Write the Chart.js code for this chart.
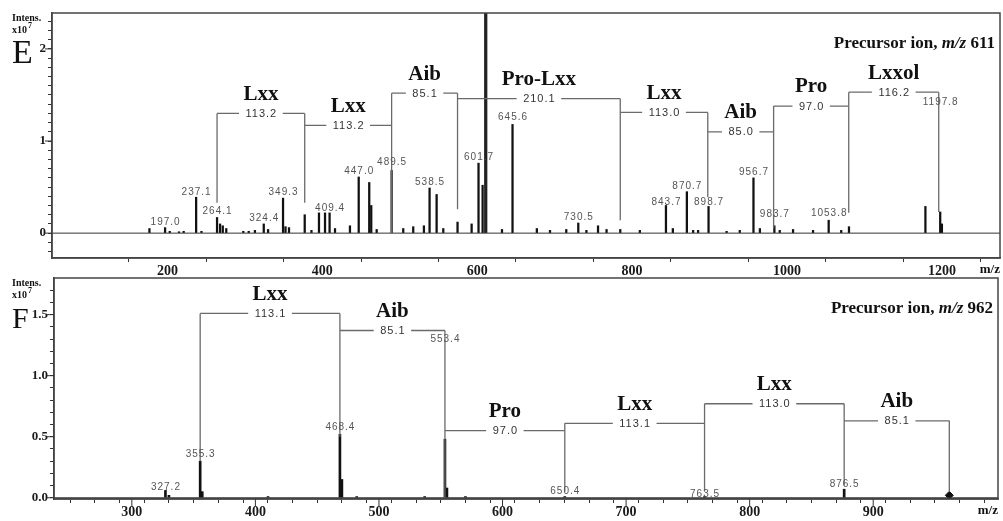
<!DOCTYPE html>
<html>
<head>
<meta charset="utf-8">
<script src="https://cdn.jsdelivr.net/npm/chart.js@4/dist/chart.umd.min.js"></script>
<style>
  body { margin: 0; background: #fff; }
  #wrap { position: relative; width: 1003px; height: 521px; }
  canvas { position: absolute; left: 0; }
</style>
</head>
<body>
<div id="wrap">
  <canvas id="chartE" width="1003" height="283" style="top:0;width:1003px;height:283px"></canvas>
  <canvas id="chartF" width="1003" height="256" style="top:265px;width:1003px;height:256px"></canvas>
</div>
<script>
// ---- panel E : precursor m/z 611 ----
const eMz  = [176.8, 197.0, 203.0, 215.0, 221.0, 237.1, 244.0, 264.1, 268.0, 271.5, 276.0, 298.0, 305.0, 313.0, 324.4, 330.0, 349.3, 352.5, 357.0, 377.3, 386.0, 395.7, 403.5, 409.4, 416.4, 435.7, 447.0, 460.6, 463.2, 470.2, 489.5, 504.5, 517.4, 531.2, 538.5, 547.6, 556.2, 574.6, 592.8, 601.7, 607.0, 632.0, 645.6, 677.0, 694.0, 715.0, 730.5, 741.0, 756.0, 767.0, 784.7, 810.0, 843.7, 852.6, 870.7, 878.8, 885.2, 898.7, 922.0, 939.0, 956.7, 965.0, 983.7, 990.6, 1007.8, 1033.6, 1053.8, 1070.0, 1080.0, 1178.7, 1197.8, 1200.0];
const eInt = [0.05, 0.06, 0.02, 0.015, 0.02, 0.39, 0.02, 0.17, 0.10, 0.08, 0.05, 0.02, 0.02, 0.03, 0.10, 0.04, 0.38, 0.07, 0.06, 0.20, 0.03, 0.22, 0.22, 0.22, 0.05, 0.08, 0.61, 0.55, 0.30, 0.04, 0.68, 0.05, 0.07, 0.08, 0.49, 0.42, 0.05, 0.12, 0.10, 0.76, 0.52, 0.04, 1.18, 0.05, 0.03, 0.04, 0.11, 0.03, 0.08, 0.04, 0.04, 0.03, 0.30, 0.05, 0.45, 0.03, 0.03, 0.29, 0.02, 0.03, 0.60, 0.05, 0.08, 0.03, 0.04, 0.03, 0.14, 0.03, 0.07, 0.29, 0.23, 0.10];
const ePrecMz  = [611.0];
const ePrecInt = [2.6];
const eLabelMz = [197.0, 237.1, 264.1, 324.4, 349.3, 409.4, 447.0, 489.5, 538.5, 601.7, 645.6, 730.5, 843.7, 870.7, 898.7, 956.7, 983.7, 1053.8, 1197.8];
const eLabelAt = [0.12, 0.44, 0.24, 0.16, 0.44, 0.27, 0.67, 0.77, 0.55, 0.82, 1.26, 0.17, 0.33, 0.51, 0.34, 0.66, 0.20, 0.22, 1.42];
const eLadderMz   = [264.1, 377.3, 489.5, 574.6, 784.7, 897.7, 982.7, 1079.7, 1195.9];
const eLadderFoot = [0.33, 0.33, 0.0, 0.26, 0.14, 0.39, 0.05, 0.22, 0.23];
const eStepLevel  = [1.30, 1.17, 1.52, 1.46, 1.31, 1.10, 1.38, 1.53];
const eStepDelta  = ['113.2', '113.2', '85.1', '210.1', '113.0', '85.0', '97.0', '116.2'];
const eStepName   = ['Lxx', 'Lxx', 'Aib', 'Pro-Lxx', 'Lxx', 'Aib', 'Pro', 'Lxxol'];
const eXLabels = [200, 400, 600, 800, 1000, 1200];
const eYLabels = [0, 1, 2];

// ---- panel F : precursor m/z 962 ----
const fMz  = [327.2, 330.0, 355.3, 357.0, 410.2, 468.4, 470.0, 482.0, 537.0, 553.4, 555.0, 570.0, 650.4, 763.5, 876.5];
const fInt = [0.06, 0.02, 0.30, 0.05, 0.01, 0.52, 0.15, 0.01, 0.01, 0.48, 0.08, 0.01, 0.01, 0.01, 0.07];
const fPrecMz  = [961.6];
const fPrecInt = [0.02];
const fLabelMz = [327.2, 355.3, 468.4, 553.4, 650.4, 763.5, 876.5];
const fLabelAt = [0.09, 0.36, 0.58, 1.30, 0.05, 0.03, 0.11];
const fLadderMz   = [355.3, 468.4, 553.4, 650.4, 763.5, 876.5, 961.6];
const fLadderFoot = [0.30, 0.50, 0.0, 0.05, 0.05, 0.10, 0.05];
const fStepLevel  = [1.51, 1.37, 0.55, 0.61, 0.77, 0.63];
const fStepDelta  = ['113.1', '85.1', '97.0', '113.1', '113.0', '85.1'];
const fStepName   = ['Lxx', 'Aib', 'Pro', 'Lxx', 'Lxx', 'Aib'];
const fXLabels = [300, 400, 500, 600, 700, 800, 900];
const fYLabels = [0, 0.5, 1, 1.5];

const range = (a, b, s) => {
  const out = [];
  for (let v = a; v <= b + 1e-9; v += s) out.push(Math.round(v * 1000) / 1000);
  return out;
};

const SERIF = '"Liberation Serif", "Times New Roman", serif';
const SANS = '"Liberation Sans", Arial, sans-serif';

function line(ctx, x1, y1, x2, y2) {
  ctx.beginPath(); ctx.moveTo(x1, y1); ctx.lineTo(x2, y2); ctx.stroke();
}

function decor(p) {
  return {
    id: 'decor' + p.letter,
    afterDatasetsDraw(chart) {
      const { ctx, chartArea: a, scales: { x, y } } = chart;
      ctx.save();
      // zero line of the spectrum
      ctx.strokeStyle = '#333'; ctx.lineWidth = 1;
      line(ctx, a.left, y.getPixelForValue(0), a.right, y.getPixelForValue(0));

      // ladder of fragment ions
      ctx.strokeStyle = '#6a6a6a'; ctx.lineWidth = 1.3;
      const lv = p.level;
      p.ladder.forEach((m, i) => {
        const top = Math.max(i > 0 ? lv[i - 1] : -9, i < lv.length ? lv[i] : -9);
        const px = x.getPixelForValue(m);
        line(ctx, px, y.getPixelForValue(p.foot[i]), px, y.getPixelForValue(top));
      });
      lv.forEach((v, i) => {
        const x1 = x.getPixelForValue(p.ladder[i]);
        const x2 = x.getPixelForValue(p.ladder[i + 1]);
        const py = y.getPixelForValue(v);
        ctx.strokeStyle = '#6a6a6a';
        line(ctx, x1, py, x2, py);
        const cx = (x1 + x2) / 2;
        ctx.font = '11px ' + SANS;
        ctx.letterSpacing = '1px';
        const w = ctx.measureText(p.delta[i]).width + 12;
        ctx.fillStyle = '#fff';
        ctx.fillRect(cx - w / 2, py - 6, w, 12);
        ctx.fillStyle = '#333';
        ctx.textAlign = 'center'; ctx.textBaseline = 'middle';
        ctx.fillText(p.delta[i], cx + 0.5, py + 0.5);
        ctx.letterSpacing = '0px';
        ctx.font = 'bold 21px ' + SERIF;
        ctx.fillStyle = '#111';
        ctx.fillText(p.name[i], cx, py - 19);
      });

      // peak labels
      ctx.font = '10px ' + SANS;
      ctx.letterSpacing = '1px';
      ctx.fillStyle = '#555';
      ctx.textAlign = 'center'; ctx.textBaseline = 'middle';
      p.labelMz.forEach((m, i) => {
        ctx.fillText(m.toFixed(1), x.getPixelForValue(m) + 0.5, y.getPixelForValue(p.labelAt[i]));
      });
      ctx.letterSpacing = '0px';

      // frame
      ctx.strokeStyle = '#444'; ctx.lineWidth = 1.5;
      ctx.strokeRect(a.left, a.top, a.right - a.left, a.bottom - a.top);

      // longer ticks on labelled values
      ctx.lineWidth = 1; ctx.strokeStyle = '#333';
      p.yMajor.forEach(v => {
        const py = y.getPixelForValue(v);
        line(ctx, a.left - 7, py, a.left, py);
      });
      (p.xMajor || []).forEach(v => {
        const px = x.getPixelForValue(v);
        line(ctx, px, a.bottom, px, a.bottom + 7);
      });

      // texts
      ctx.fillStyle = '#111';
      ctx.textAlign = 'left'; ctx.textBaseline = 'alphabetic';
      ctx.font = p.letterFont + 'px ' + SERIF;
      ctx.fillText(p.letter, 12, a.top + 50);
      ctx.font = 'bold 10px ' + SERIF;
      ctx.fillText('Intens.', 12, a.top + 8);
      ctx.fillText('x10', 12, a.top + 20);
      const sw = ctx.measureText('x10').width;
      ctx.font = 'bold 8px ' + SERIF;
      ctx.fillText('7', 12 + sw + 1, a.top + 15);

      ctx.font = 'bold 13px ' + SERIF;
      ctx.textAlign = 'right'; ctx.textBaseline = 'middle';
      ctx.fillText('m/z', a.right, a.bottom + 12);

      // precursor caption, m/z in italics
      ctx.textBaseline = 'alphabetic';
      const parts = [['bold ', 'Precursor ion, '], ['italic bold ', 'm/z'], ['bold ', ' ' + p.prec]];
      let xx = a.right - 5;
      for (let k = parts.length - 1; k >= 0; k--) {
        ctx.font = parts[k][0] + '17px ' + SERIF;
        const w = ctx.measureText(parts[k][1]).width;
        ctx.textAlign = 'left';
        ctx.fillText(parts[k][1], xx - w, a.top + 35);
        xx -= w;
      }
      ctx.restore();
    }
  };
}

function xAxis(min, max, ticks, labels, h) {
  return {
    type: 'linear', min, max, offset: false,
    afterBuildTicks: s => { s.ticks = ticks.map(v => ({ value: v })); },
    afterFit: s => { s.height = h; },
    grid: { display: true, drawOnChartArea: false, drawTicks: true, tickLength: 4, tickColor: '#333' },
    border: { display: true, color: '#444', width: 1.5 },
    ticks: {
      autoSkip: false, maxRotation: 0, padding: 1, color: '#1a1a1a',
      font: { family: SERIF, size: 14, weight: 'bold' },
      callback: v => labels.includes(v) ? String(v) : ''
    }
  };
}

function yAxis(min, max, ticks, labels, w, fmt) {
  return {
    type: 'linear', min, max,
    afterBuildTicks: s => { s.ticks = ticks.map(v => ({ value: v })); },
    afterFit: s => { s.width = w; },
    grid: { display: true, drawOnChartArea: false, drawTicks: true, tickLength: 4, tickColor: '#333' },
    border: { display: true, color: '#444', width: 1.5 },
    ticks: {
      autoSkip: false, padding: 2, color: '#1a1a1a',
      font: { family: SERIF, size: 13, weight: 'bold' },
      callback: v => labels.includes(v) ? fmt(v) : ''
    }
  };
}

const pts = (xs, ys) => xs.map((m, i) => ({ x: m, y: ys[i] }));

new Chart(document.getElementById('chartE'), {
  type: 'bar',
  data: {
    datasets: [
      { data: pts(eMz, eInt), backgroundColor: '#111', barThickness: 1.6, grouped: false },
      { data: pts(ePrecMz, ePrecInt), backgroundColor: '#222', barThickness: 2.6, grouped: false }
    ]
  },
  options: {
    responsive: false, animation: false, events: [],
    layout: { padding: { top: 13, right: 3, left: 0, bottom: 0 } },
    plugins: { legend: { display: false }, tooltip: { enabled: false } },
    scales: {
      x: xAxis(51, 1275, range(100, 1200, 100), eXLabels, 25),
      y: yAxis(-0.27, 2.39, range(-0.2, 2.3, 0.1), eYLabels, 52, v => String(v))
    }
  },
  plugins: [decor({
    letter: 'E', letterFont: 34, prec: '611',
    ladder: eLadderMz, foot: eLadderFoot, level: eStepLevel, delta: eStepDelta, name: eStepName,
    labelMz: eLabelMz, labelAt: eLabelAt, yMajor: eYLabels
  })]
});

new Chart(document.getElementById('chartF'), {
  type: 'bar',
  data: {
    datasets: [
      { data: pts(fMz, fInt), backgroundColor: '#111', barThickness: 2, grouped: false },
      { type: 'scatter', data: pts(fPrecMz, fPrecInt), pointStyle: 'rectRot', radius: 4,
        backgroundColor: '#111', borderColor: '#111' }
    ]
  },
  options: {
    responsive: false, animation: false, events: [],
    layout: { padding: { top: 13, right: 3, left: 0, bottom: 0 } },
    plugins: { legend: { display: false }, tooltip: { enabled: false } },
    scales: {
      x: xAxis(237, 1001, range(240, 1000, 20), fXLabels, 22),
      y: yAxis(-0.01, 1.8, range(0, 1.7, 0.1), fYLabels, 54, v => v.toFixed(1))
    }
  },
  plugins: [decor({
    letter: 'F', letterFont: 30, prec: '962',
    ladder: fLadderMz, foot: fLadderFoot, level: fStepLevel, delta: fStepDelta, name: fStepName,
    labelMz: fLabelMz, labelAt: fLabelAt, yMajor: fYLabels, xMajor: fXLabels
  })]
});
</script>
</body>
</html>
